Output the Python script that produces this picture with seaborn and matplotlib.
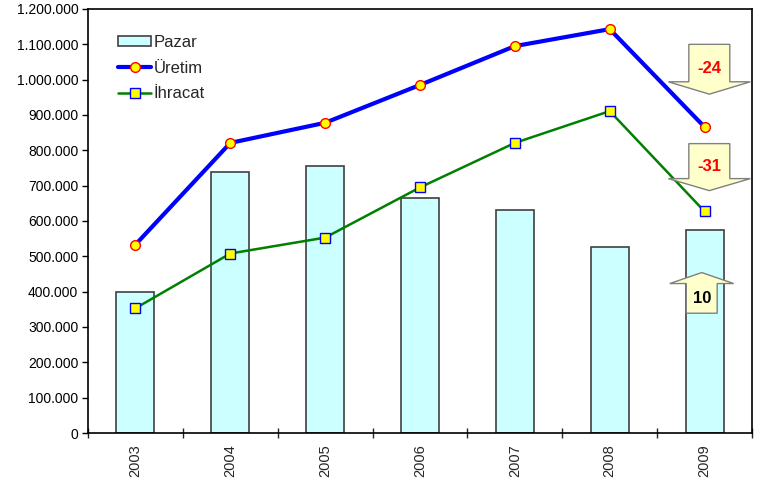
import numpy as np
import pandas as pd
import matplotlib
matplotlib.use("Agg")
import matplotlib.pyplot as plt
from matplotlib.patches import Polygon
from matplotlib.lines import Line2D
from matplotlib.ticker import FuncFormatter, MultipleLocator, FixedLocator
import seaborn as sns

# data
years = ["2003", "2004", "2005", "2006", "2007", "2008", "2009"]
pazar = [398000, 739000, 756000, 664000, 632000, 525000, 575000]
uretim = [533000, 821000, 878000, 985000, 1095000, 1143000, 866000]
ihracat = [353000, 508000, 553000, 695000, 821000, 911000, 627000]
changes = [-24, -31, 10]

df = pd.DataFrame({"Yil": years, "Pazar": pazar, "Uretim": uretim, "Ihracat": ihracat})
df["pos"] = np.arange(len(years))

sns.set_style("white")
plt.rcParams["font.family"] = ["Liberation Sans", "DejaVu Sans"]

fig = plt.figure(figsize=(7.66, 4.86), dpi=100)
ax = fig.add_axes([88 / 766, 1 - 433 / 486, (752 - 88) / 766, (433 - 9) / 486])

# bars
sns.barplot(data=df, x="Yil", y="Pazar", color="#CCFFFF", edgecolor="#404040",
            linewidth=1.2, width=0.4, saturation=1, ax=ax)

# lines
sns.lineplot(data=df, x="pos", y="Uretim", color="#0000FF", linewidth=3,
             marker="o", markersize=7, markerfacecolor="#FFFF00",
             markeredgecolor="#FF0000", markeredgewidth=1, ax=ax)
sns.lineplot(data=df, x="pos", y="Ihracat", color="#008000", linewidth=1.8,
             marker="s", markersize=6.5, markerfacecolor="#FFFF00",
             markeredgecolor="#0000FF", markeredgewidth=1, ax=ax)

ax.set_xlim(-0.5, len(years) - 0.5)
ax.set_ylim(0, 1200000)
ax.set_xlabel("")
ax.set_ylabel("")

# axes styling
for s in ax.spines.values():
    s.set_color("black")
    s.set_linewidth(1.2)
ax.yaxis.set_major_locator(MultipleLocator(100000))
ax.yaxis.set_major_formatter(FuncFormatter(lambda v, p: f"{int(v):,}".replace(",", ".")))
ax.tick_params(axis="y", which="major", direction="out", length=4, width=1,
               left=True, labelsize=10, pad=3, colors="black")
ax.set_xticks(df["pos"])
ax.set_xticklabels(years, rotation=90, fontsize=10.5)
ax.tick_params(axis="x", which="major", length=0, pad=8, bottom=True)
ax.xaxis.set_minor_locator(FixedLocator(np.arange(-0.5, len(years), 1.0)))
ax.tick_params(axis="x", which="minor", direction="inout", length=7, width=1,
               bottom=True)

# block arrows with percent changes for 2009
arrow_fill = "#FFFFCC"
arrow_edge = "#808080"


def down_arrow(xc, top, shoulder, tip, bw, hw, text):
    pts = [(xc - bw, top), (xc + bw, top), (xc + bw, shoulder), (xc + hw, shoulder),
           (xc, tip), (xc - hw, shoulder), (xc - bw, shoulder)]
    ax.add_patch(Polygon(pts, closed=True, facecolor=arrow_fill, edgecolor=arrow_edge,
                         linewidth=1, zorder=5, clip_on=False))
    ax.text(xc, (top + shoulder) / 2 - 16000, text, ha="center", va="center",
            color="#FF0000", fontsize=12, fontweight="bold", zorder=6)


def up_arrow(xc, bottom, shoulder, tip, bw, hw, text):
    pts = [(xc - bw, bottom), (xc + bw, bottom), (xc + bw, shoulder), (xc + hw, shoulder),
           (xc, tip), (xc - hw, shoulder), (xc - bw, shoulder)]
    ax.add_patch(Polygon(pts, closed=True, facecolor=arrow_fill, edgecolor=arrow_edge,
                         linewidth=1, zorder=5, clip_on=False))
    ax.text(xc, (bottom + shoulder) / 2, text, ha="center", va="center",
            color="black", fontsize=12, fontweight="bold", zorder=6)


x9 = len(years) - 1
down_arrow(x9 + 0.05, 1100000, 994000, 959000, 0.216, 0.432, str(changes[0]))
down_arrow(x9 + 0.05, 819000, 720000, 686000, 0.216, 0.432, str(changes[1]))
up_arrow(x9 - 0.03, 339000, 423000, 454000, 0.163, 0.337, str(changes[2]))

# legend
handles = [
    plt.Rectangle((0, 0), 1, 1, facecolor="#CCFFFF", edgecolor="#404040", linewidth=1.2),
    Line2D([], [], color="#0000FF", linewidth=3, marker="o", markersize=7,
           markerfacecolor="#FFFF00", markeredgecolor="#FF0000"),
    Line2D([], [], color="#008000", linewidth=1.8, marker="s", markersize=6.5,
           markerfacecolor="#FFFF00", markeredgecolor="#0000FF"),
]
ax.legend(handles, ["Pazar", "Üretim", "İhracat"], loc="upper left",
          bbox_to_anchor=(0.035, 0.955), borderaxespad=0, frameon=False, fontsize=12,
          handlelength=2.0, handletextpad=0.15, labelspacing=0.65, handleheight=0.6)

fig.savefig("out.png", dpi=100)
